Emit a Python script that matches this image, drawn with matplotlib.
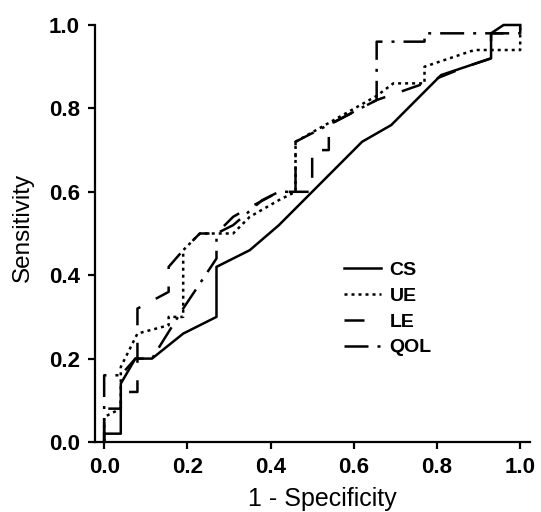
import matplotlib
matplotlib.use("Agg")
import matplotlib.pyplot as plt
from matplotlib.lines import Line2D

plt.rcParams['font.family'] = ['Liberation Sans', 'DejaVu Sans']

# ROC curves (1 - specificity, sensitivity)
cs_x = [0, 0, 0.04, 0.04, 0.075, 0.115, 0.19, 0.27, 0.27, 0.35, 0.42, 0.62, 0.69, 0.81, 0.93, 0.93, 0.96, 1.0]
cs_y = [0, 0.02, 0.02, 0.14, 0.20, 0.20, 0.26, 0.30, 0.42, 0.46, 0.52, 0.72, 0.76, 0.88, 0.92, 0.98, 1.0, 1.0]

ue_x = [0, 0, 0.04, 0.04, 0.08, 0.155, 0.155, 0.19, 0.19, 0.23, 0.27, 0.31, 0.35, 0.42, 0.46, 0.46, 0.655, 0.695, 0.77, 0.77, 0.89, 1.0, 1.0]
ue_y = [0, 0.06, 0.08, 0.18, 0.26, 0.28, 0.30, 0.30, 0.46, 0.50, 0.50, 0.50, 0.54, 0.58, 0.60, 0.72, 0.83, 0.86, 0.86, 0.90, 0.94, 0.94, 1.0]

le_x = [0, 0, 0.04, 0.04, 0.08, 0.08, 0.155, 0.155, 0.19, 0.23, 0.27, 0.31, 0.345, 0.42, 0.50, 0.50, 0.54, 0.54, 0.655, 0.77, 0.87, 0.93, 0.93, 1.0, 1.0]
le_y = [0, 0.08, 0.08, 0.12, 0.12, 0.32, 0.36, 0.42, 0.46, 0.50, 0.50, 0.54, 0.56, 0.60, 0.60, 0.70, 0.70, 0.76, 0.82, 0.86, 0.90, 0.92, 0.98, 0.98, 1.0]

qol_x = [0, 0, 0.04, 0.075, 0.115, 0.19, 0.23, 0.27, 0.27, 0.31, 0.38, 0.42, 0.46, 0.46, 0.655, 0.655, 0.77, 0.77, 1.0, 1.0]
qol_y = [0, 0.16, 0.16, 0.20, 0.20, 0.32, 0.38, 0.44, 0.50, 0.52, 0.58, 0.60, 0.60, 0.72, 0.82, 0.96, 0.96, 0.98, 0.98, 1.0]

labels = ['CS', 'UE', 'LE', 'QOL']
styles = ['-', (0, (1.2, 1.6)), (0, (8, 7)), (0, (9.6, 3.6, 1.2, 3.6))]

fig = plt.figure(figsize=(5.41, 5.12), dpi=100)
ax = fig.add_axes([0.1756, 0.1367, 0.8044, 0.8145])

lw = 1.8
for xs, ys, ls in zip([cs_x, ue_x, le_x, qol_x], [cs_y, ue_y, le_y, qol_y], styles):
    ax.plot(xs, ys, color='black', lw=lw, linestyle=ls, clip_on=False)

ticks = [0, 0.2, 0.4, 0.6, 0.8, 1.0]
ticklabels = ['0.0', '0.2', '0.4', '0.6', '0.8', '1.0']
ax.set_xlim(-0.022, 1.024)
ax.set_ylim(0, 1.0)
ax.set_xticks(ticks)
ax.set_yticks(ticks)
ax.set_xticklabels(ticklabels, fontweight='bold', fontsize=16)
ax.set_yticklabels(ticklabels, fontweight='bold', fontsize=16)
ax.tick_params(direction='out', length=5, width=1.6, pad=6)

for side in ['top', 'right']:
    ax.spines[side].set_visible(False)
for side in ['left', 'bottom']:
    ax.spines[side].set_linewidth(1.6)

ax.set_xlabel('1 - Specificity', fontsize=18)
ax.xaxis.set_label_coords(0.523, -0.108)
ax.set_ylabel('Sensitivity', fontsize=17.5, labelpad=11)
ax.yaxis.label.set_y(0.515)

handles = [Line2D([], [], color='black', lw=lw, linestyle=ls) for ls in styles]
leg = ax.legend(handles, labels, loc='upper left', bbox_to_anchor=(0.533, 0.475),
                frameon=False, handlelength=1.9, handletextpad=0.42,
                labelspacing=0.42, prop={'weight': 'bold', 'size': 14})

fig.savefig('out.png', dpi=100)
